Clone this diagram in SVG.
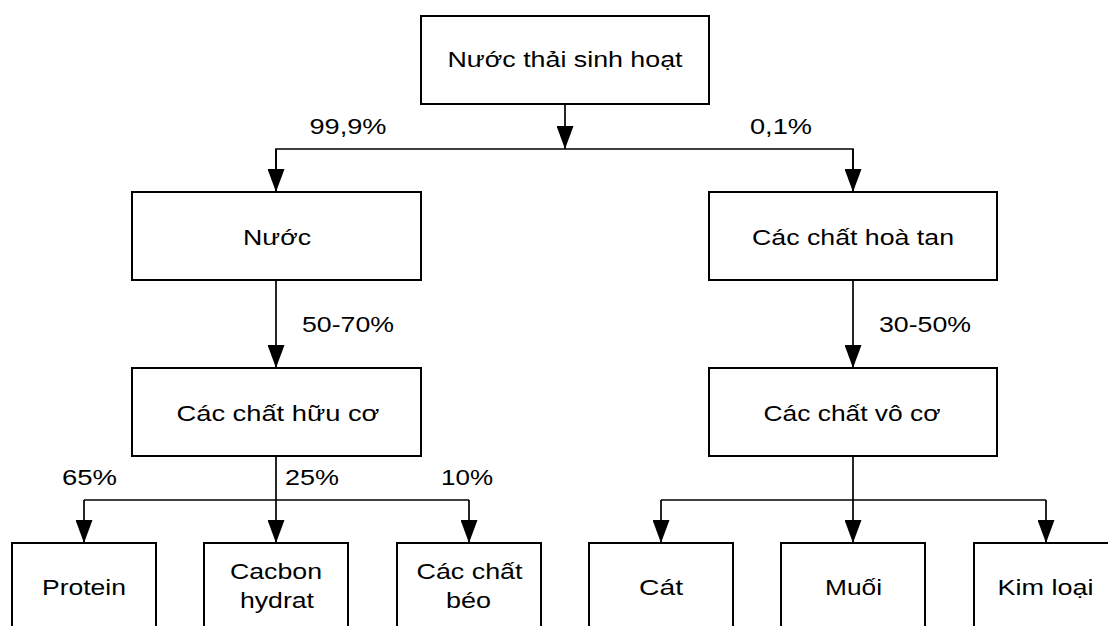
<svg xmlns="http://www.w3.org/2000/svg" width="1108" height="626" viewBox="0 0 1108 626">
<defs>
<marker id="arr" markerUnits="userSpaceOnUse" markerWidth="23" markerHeight="17" refX="23" refY="8.5" orient="auto" viewBox="0 0 23 17">
<path d="M0,0 L23,8.5 L0,17 z" fill="#000"/>
</marker>
<style>
.box{fill:#fff;stroke:#000;stroke-width:2}
.ln{fill:none;stroke:#000;stroke-width:1.7}
.t{font-family:"Liberation Sans",Arial,sans-serif;font-size:22px;fill:#000;text-anchor:middle}
</style>
</defs>
<rect width="1108" height="626" fill="#fff"/>
<g id="connectors">
<line class="ln" x1="565" y1="104" x2="565" y2="149" marker-end="url(#arr)"/>
<polyline class="ln" points="853,192 853,149 276,149 276,192" />
<line class="ln" x1="276" y1="149" x2="276" y2="192" marker-end="url(#arr)"/>
<line class="ln" x1="853" y1="149" x2="853" y2="192" marker-end="url(#arr)"/>
<line class="ln" x1="276" y1="280" x2="276" y2="368" marker-end="url(#arr)"/>
<line class="ln" x1="853" y1="280" x2="853" y2="368" marker-end="url(#arr)"/>
<line class="ln" x1="276" y1="456" x2="276" y2="543" marker-end="url(#arr)"/>
<polyline class="ln" points="84,500 469,500"/>
<line class="ln" x1="84" y1="500" x2="84" y2="543" marker-end="url(#arr)"/>
<line class="ln" x1="469" y1="500" x2="469" y2="543" marker-end="url(#arr)"/>
<line class="ln" x1="853" y1="456" x2="853" y2="543" marker-end="url(#arr)"/>
<polyline class="ln" points="661,500 1046,500"/>
<line class="ln" x1="661" y1="500" x2="661" y2="543" marker-end="url(#arr)"/>
<line class="ln" x1="1046" y1="500" x2="1046" y2="543" marker-end="url(#arr)"/>
<text class="t" x="348" y="134" textLength="77" lengthAdjust="spacingAndGlyphs">99,9%</text>
<text class="t" x="781" y="134" textLength="62" lengthAdjust="spacingAndGlyphs">0,1%</text>
<text class="t" x="348" y="332" textLength="92" lengthAdjust="spacingAndGlyphs">50-70%</text>
<text class="t" x="925" y="332" textLength="92" lengthAdjust="spacingAndGlyphs">30-50%</text>
<text class="t" x="89.5" y="485" textLength="55" lengthAdjust="spacingAndGlyphs">65%</text>
<text class="t" x="312" y="485" textLength="54" lengthAdjust="spacingAndGlyphs">25%</text>
<text class="t" x="467" y="485" textLength="52" lengthAdjust="spacingAndGlyphs">10%</text>
</g>
<g id="n-root">
<rect class="box" x="421" y="16" width="288" height="88"/>
<text class="t" x="565" y="67" textLength="235" lengthAdjust="spacingAndGlyphs">Nước thải sinh hoạt</text>
</g>
<g id="n-nuoc">
<rect class="box" x="132" y="192" width="289" height="88"/>
<text class="t" x="277" y="245" textLength="68" lengthAdjust="spacingAndGlyphs">Nước</text>
</g>
<g id="n-hoatan">
<rect class="box" x="709" y="192" width="288" height="88"/>
<text class="t" x="853" y="245" textLength="202" lengthAdjust="spacingAndGlyphs">Các chất hoà tan</text>
</g>
<g id="n-huuco">
<rect class="box" x="132" y="368" width="289" height="88"/>
<text class="t" x="278" y="421" textLength="203" lengthAdjust="spacingAndGlyphs">Các chất hữu cơ</text>
</g>
<g id="n-voco">
<rect class="box" x="709" y="368" width="288" height="88"/>
<text class="t" x="852" y="421" textLength="177" lengthAdjust="spacingAndGlyphs">Các chất vô cơ</text>
</g>
<g id="n-protein">
<rect class="box" x="12" y="543" width="144" height="100"/>
<text class="t" x="84" y="595" textLength="84" lengthAdjust="spacingAndGlyphs">Protein</text>
</g>
<g id="n-cacbon">
<rect class="box" x="204" y="543" width="144" height="100"/>
<text class="t" x="276" y="579" textLength="92" lengthAdjust="spacingAndGlyphs">Cacbon</text>
<text class="t" x="277" y="608" textLength="74" lengthAdjust="spacingAndGlyphs">hydrat</text>
</g>
<g id="n-beo">
<rect class="box" x="397" y="543" width="144" height="100"/>
<text class="t" x="469.5" y="579" textLength="106" lengthAdjust="spacingAndGlyphs">Các chất</text>
<text class="t" x="468.5" y="608" textLength="45" lengthAdjust="spacingAndGlyphs">béo</text>
</g>
<g id="n-cat">
<rect class="box" x="589" y="543" width="144" height="100"/>
<text class="t" x="661" y="595" textLength="44" lengthAdjust="spacingAndGlyphs">Cát</text>
</g>
<g id="n-muoi">
<rect class="box" x="781" y="543" width="144" height="100"/>
<text class="t" x="853.5" y="595" textLength="57" lengthAdjust="spacingAndGlyphs">Muối</text>
</g>
<g id="n-kimloai">
<rect class="box" x="974" y="543" width="144" height="100"/>
<text class="t" x="1045.5" y="595" textLength="96" lengthAdjust="spacingAndGlyphs">Kim loại</text>
</g>
</svg>
